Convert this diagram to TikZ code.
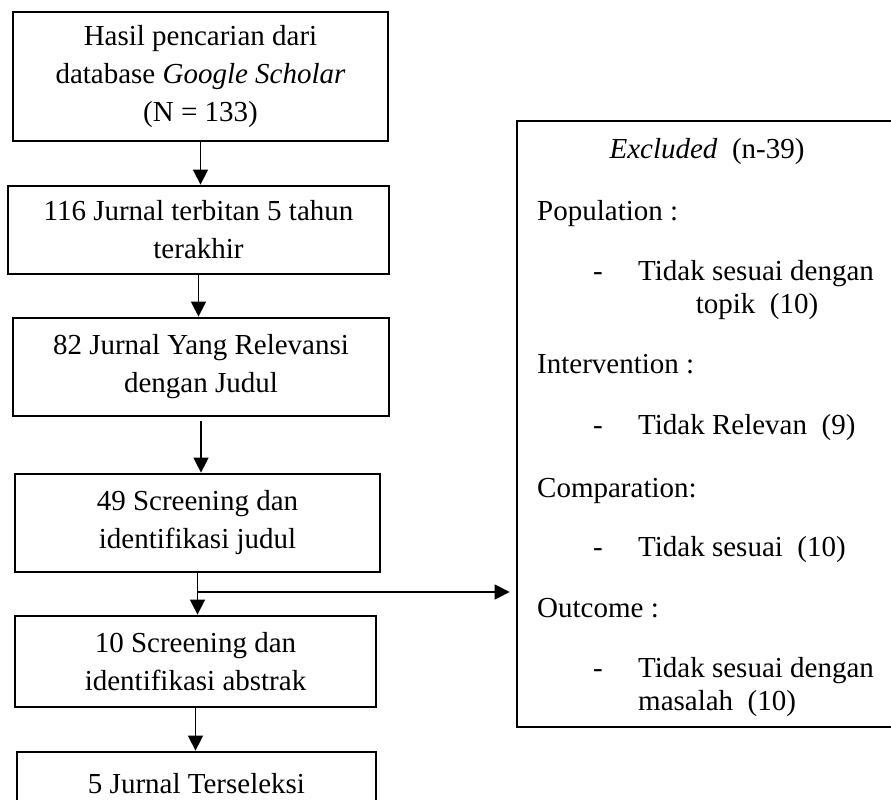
\documentclass[tikz,border=0pt]{standalone}
\usepackage{fontspec}
\setmainfont{Liberation Serif}
\usetikzlibrary{arrows.meta, positioning}
\tikzset{
  stepbox/.style={rectangle, draw=black, line width=2.8pt, align=center,
                  inner sep=0pt, font=\fontsize{29}{38}\selectfont},
  exbox/.style={rectangle, draw=black, line width=2.8pt, inner sep=0pt},
  extext/.style={inner sep=0pt, anchor=base west,
                 font=\fontsize{29}{38}\selectfont},
  flow/.style={draw=black, line width=1.5pt,
               -{Triangle[length=15pt, width=15pt]}},
}
\begin{document}
\begin{tikzpicture}[x=1pt, y=-1pt]
    \useasboundingbox (0,0) rectangle (891,800);
    %% main flow
    \node[stepbox, minimum width=375pt, minimum height=129pt] (hasil) at (200.5,76.5)
      {Hasil pencarian dari\\ database \textit{Google Scholar}\\ (N = 133)};
    \node[stepbox, minimum width=381pt, minimum height=88pt] (terbit) at (198.5,230)
      {116 Jurnal terbitan 5 tahun\\ terakhir};
    \node[stepbox, minimum width=376pt, minimum height=98pt] (relevan) at (201,367)
      {82 Jurnal Yang Relevansi\\ dengan Judul};
    \node[stepbox, minimum width=365pt, minimum height=98pt] (judul) at (197.5,523)
      {49 Screening dan\\ identifikasi judul};
    \node[stepbox, minimum width=361pt, minimum height=91pt] (abstrak) at (195.5,661.5)
      {10 Screening dan\\ identifikasi abstrak};
    \node[stepbox, minimum width=359pt, minimum height=64pt] (seleksi) at (196.5,784)
      {5 Jurnal Terseleksi};
    %% arrows
    \draw[flow] (hasil.south) -- (hasil.south |- terbit.north);
    \draw[flow] (terbit.south) -- (terbit.south |- relevan.north);
    \draw[flow] ([yshift=-4pt]relevan.south) -- (relevan.south |- judul.north);
    \draw[flow] (judul.south) -- (judul.south |- abstrak.north);
    \draw[flow] (abstrak.south) -- (abstrak.south |- seleksi.north);
    %% excluded box
    \node[exbox, minimum width=388pt, minimum height=606pt] (excl) at (711,424) {};
    \coordinate (cabang) at (judul.south |- 0,592);
    \draw[flow] (cabang) -- ([xshift=-6pt]excl.west |- cabang);
    \node[extext, anchor=base] (exjudul) at (707,158) {\textit{Excluded}\ \ (n-39)};
    \node[extext] (pop) at (537,220) {Population :};
    \node[extext] (popd) at (593,280) {-};
    \node[extext] (popt) at (638,280) {Tidak sesuai dengan};
    \node[extext, anchor=base] (popt2) at (757,313) {topik\ \ (10)};
    \node[extext] (int) at (537,373) {Intervention :};
    \node[extext] (intd) at (593,434) {-};
    \node[extext] (intt) at (638,434) {Tidak Relevan\ \ (9)};
    \node[extext] (com) at (537,497) {Comparation:};
    \node[extext] (comd) at (593,556) {-};
    \node[extext] (comt) at (638,556) {Tidak sesuai\ \ (10)};
    \node[extext] (out) at (537,617) {Outcome :};
    \node[extext] (outd) at (593,677) {-};
    \node[extext] (outt) at (638,677) {Tidak sesuai dengan};
    \node[extext] (outt2) at (638,710) {masalah\ \ (10)};
\end{tikzpicture}
\end{document}
